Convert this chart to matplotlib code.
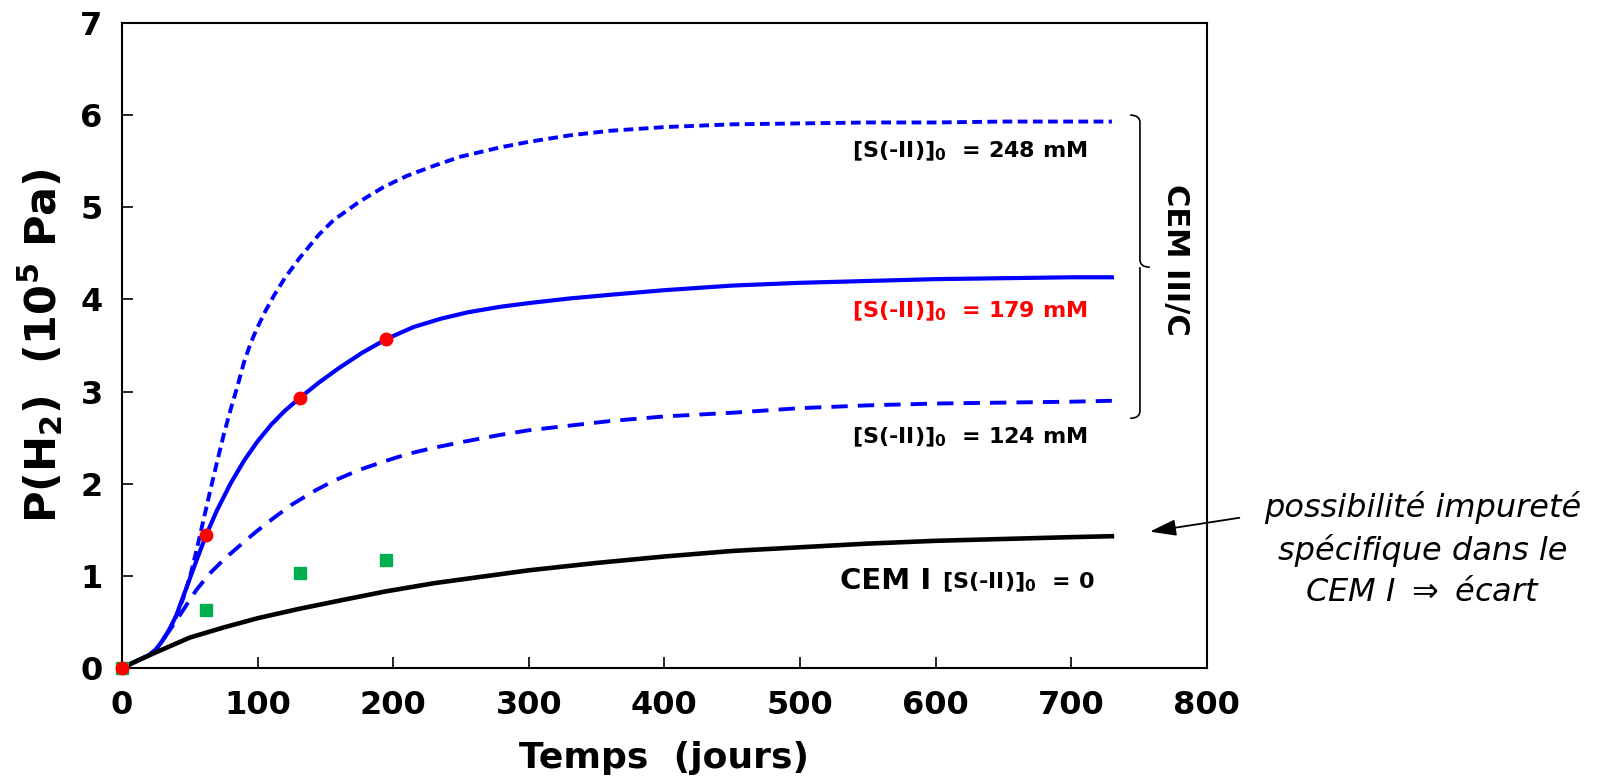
import numpy as np
import matplotlib
matplotlib.use("Agg")
import matplotlib.pyplot as plt
from matplotlib.path import Path
from matplotlib.patches import PathPatch

plt.rcParams['font.family'] = ['DejaVu Sans']
plt.rcParams['mathtext.fontset'] = 'custom'
plt.rcParams['mathtext.rm'] = 'DejaVu Sans:bold'
plt.rcParams['mathtext.it'] = 'DejaVu Sans:bold'
plt.rcParams['mathtext.bf'] = 'DejaVu Sans:bold'
plt.rcParams['mathtext.default'] = 'rm'

# --- data ---
# CEM III/C, [S(-II)]0 = 248 mM (short dashes)
t_248 = [0, 10, 20, 25, 30, 35, 40, 45, 50, 55, 60, 65, 70, 75, 80, 85, 90, 95, 100, 106,
         112, 120, 131, 145, 156, 175, 193, 210, 230, 250, 279, 300, 330, 360, 400, 450,
         500, 550, 600, 650, 700, 730]
p_248 = [0, 0.07, 0.14, 0.2, 0.3, 0.42, 0.56, 0.75, 0.98, 1.28, 1.6, 1.92, 2.23, 2.53, 2.8,
         3.05, 3.32, 3.53, 3.70, 3.88, 4.04, 4.23, 4.45, 4.70, 4.86, 5.06, 5.22, 5.34, 5.45,
         5.55, 5.65, 5.71, 5.78, 5.83, 5.87, 5.90, 5.91, 5.92, 5.92, 5.93, 5.93, 5.93]

# CEM III/C, [S(-II)]0 = 179 mM (solid)
t_179 = [0, 10, 20, 25, 30, 35, 40, 45, 50, 55, 62, 70, 80, 90, 100, 110, 120, 131, 145,
         160, 177, 195, 215, 235, 255, 279, 300, 330, 360, 400, 450, 500, 550, 600, 650,
         700, 730]
p_179 = [0, 0.07, 0.14, 0.2, 0.3, 0.42, 0.57, 0.77, 0.97, 1.17, 1.44, 1.71, 2.0, 2.25,
         2.46, 2.64, 2.79, 2.93, 3.095, 3.255, 3.42, 3.57, 3.70, 3.79, 3.86, 3.92, 3.96,
         4.01, 4.05, 4.10, 4.15, 4.18, 4.20, 4.22, 4.23, 4.24, 4.24]

# CEM III/C, [S(-II)]0 = 124 mM (long dashes)
t_124 = [0, 10, 20, 25, 30, 37, 43, 50, 55, 65, 76, 87, 99, 112, 126, 143, 156, 175, 193,
         210, 230, 250, 279, 300, 330, 360, 400, 450, 500, 550, 600, 650, 700, 730]
p_124 = [0, 0.07, 0.14, 0.2, 0.3, 0.45, 0.58, 0.74, 0.85, 1.03, 1.19, 1.33, 1.48, 1.63,
         1.78, 1.93, 2.03, 2.15, 2.24, 2.32, 2.39, 2.45, 2.53, 2.58, 2.63, 2.68, 2.73, 2.77,
         2.82, 2.85, 2.87, 2.88, 2.89, 2.90]

# CEM I, [S(-II)]0 = 0
t_cem1 = [0, 10, 25, 50, 75, 100, 130, 160, 194, 230, 270, 300, 350, 400, 450, 500, 550,
          600, 650, 700, 730]
p_cem1 = [0, 0.07, 0.17, 0.33, 0.44, 0.54, 0.64, 0.73, 0.83, 0.92, 1.0, 1.06, 1.14, 1.21,
          1.27, 1.31, 1.35, 1.38, 1.40, 1.42, 1.43]

# measured points
t_meas = [0, 62, 131, 195]
p_meas_cem3 = [0, 1.44, 2.93, 3.57]
p_meas_cem1 = [0, 0.63, 1.03, 1.17]

labels_cem3 = [r'[S(-II)]$_0$  = 248 mM', r'[S(-II)]$_0$  = 179 mM', r'[S(-II)]$_0$  = 124 mM']
label_y = [5.54, 3.81, 2.44]
label_colors = ['black', 'red', 'black']

fig = plt.figure(figsize=(16, 7.81), dpi=100)
ax = fig.add_axes([0.07625, 0.1447, 0.678, 0.8259])

ax.plot(t_248, p_248, color='#0000FF', lw=2.8, dashes=(2.5, 1.4))
ax.plot(t_179, p_179, color='#0000FF', lw=3.0)
ax.plot(t_124, p_124, color='#0000FF', lw=2.8, dashes=(4.2, 2.6))
ax.plot(t_cem1, p_cem1, color='black', lw=3.3)

ax.plot(t_meas, p_meas_cem1, 's', color='#00B050', ms=8, clip_on=False, zorder=4)
ax.plot(t_meas, p_meas_cem3, 'o', color='#FF0000', ms=9, clip_on=False, zorder=5)

ax.set_xlim(0, 800)
ax.set_ylim(0, 7)
ax.set_xticks(range(0, 801, 100))
ax.set_yticks(range(0, 8))
ax.tick_params(direction='in', length=8, width=1.2, labelsize=23, pad=14)
ax.tick_params(axis='x', pad=16)
for lab in ax.get_xticklabels() + ax.get_yticklabels():
    lab.set_fontweight('bold')
for sp in ax.spines.values():
    sp.set_linewidth(1.5)

ax.set_xlabel('Temps  (jours)', fontsize=26, fontweight='bold', labelpad=14)
ax.set_ylabel(r'P(H$_2$)  (10$^5$ Pa)', fontsize=31, fontweight='bold', labelpad=10)

for txt, yv, c in zip(labels_cem3, label_y, label_colors):
    ax.text(712, yv, txt, ha='right', va='baseline', fontsize=16,
            fontweight='bold', color=c)

ax.text(597, 0.86, 'CEM I', ha='right', va='baseline', fontsize=21, fontweight='bold')
ax.text(717, 0.86, r'[S(-II)]$_0$  = 0', ha='right', va='baseline', fontsize=16,
        fontweight='bold')

# curly brace grouping the CEM III/C curves
bx0, bx1, bx2 = 743.5, 750.7, 758
btop, bmid, bbot = 6.0, 4.35, 2.71
verts = [(bx0, btop), (bx1, btop), (bx1, btop - 0.08),
         (bx1, bmid + 0.08),
         (bx1, bmid), (bx2, bmid),
         (bx1, bmid), (bx1, bmid - 0.08),
         (bx1, bbot + 0.08),
         (bx1, bbot), (bx0, bbot)]
codes = [Path.MOVETO, Path.CURVE3, Path.CURVE3,
         Path.LINETO,
         Path.CURVE3, Path.CURVE3,
         Path.MOVETO, Path.LINETO,
         Path.LINETO,
         Path.CURVE3, Path.CURVE3]
ax.add_patch(PathPatch(Path(verts, codes), fill=False, lw=1.2, color='black'))

ax.text(777, 4.43, 'CEM III/C', rotation=-90, ha='center', va='center',
        fontsize=22, fontweight='bold', clip_on=False)

ax.annotate('', xy=(758, 1.48), xytext=(824, 1.63), annotation_clip=False,
            arrowprops=dict(arrowstyle='-|>,head_length=0.8,head_width=0.25',
                            mutation_scale=20, lw=1.3, color='black',
                            shrinkA=0, shrinkB=0))
ax.text(959, 1.29, 'possibilité impureté\nspécifique dans le\nCEM I $\\Rightarrow$ écart',
        ha='center', va='center', fontsize=23, fontstyle='italic',
        linespacing=1.4, clip_on=False, math_fontfamily='dejavusans')

fig.savefig('out.png', dpi=100)
